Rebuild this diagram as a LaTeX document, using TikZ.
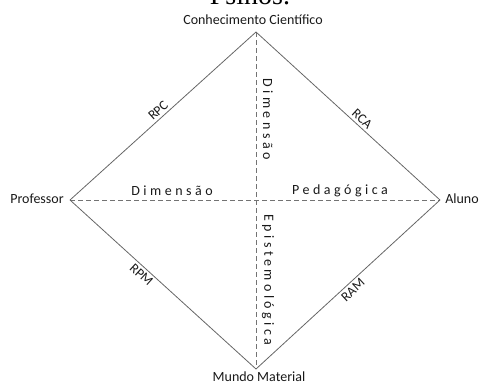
\documentclass[tikz,border=0pt]{standalone}
\usepackage{fontspec}
\setmainfont{Carlito}
\newfontfamily\capfont{Liberation Serif}
\begin{document}
\begin{tikzpicture}[x=1pt,y=-1pt,
  lbl/.style={font=\fontsize{14}{16}\selectfont, text=black!90, inner sep=1pt},
  dimtxt/.style={font=\fontsize{14}{16}\selectfont\addfontfeature{LetterSpace=25}, text=black!90, inner sep=0pt},
  edgelbl/.style={font=\fontsize{13.5}{15}\selectfont, text=black!90, sloped, inner sep=2.5pt},
  side/.style={draw=black!60, line width=0.8pt},
  axisline/.style={draw=black!55, line width=0.8pt, dash pattern=on 5pt off 3pt}]
\useasboundingbox (0,0) rectangle (481,384);
% clipped caption at the very top
\node[font=\capfont\fontsize{28}{30}\selectfont, anchor=base, inner sep=0pt] (cap) at (250,4) {Psinos.};
% vertices
\coordinate (T) at (256,32);
\coordinate (L) at (70,200);
\coordinate (R) at (440,200);
\coordinate (B) at (256,369);
% labels of vertices
\node[lbl] (cc) at (253,20) {Conhecimento Científico};
\node[lbl] (prof) at (37,199) {Professor};
\node[lbl] (alu) at (462,199) {Aluno};
\node[lbl] (mm) at (259,377) {Mundo Material};
% axes
\draw[axisline] (T) -- (B);
\draw[axisline] (L) -- (R);
% sides
\draw[side] (L) -- node[edgelbl, pos=0.5, above] (rpc) {RPC} (T);
\draw[side] (T) -- node[edgelbl, pos=0.55, above] (rca) {RCA} (R);
\draw[side] (L) -- node[edgelbl, pos=0.41, below] (rpm) {RPM} (B);
\draw[side] (B) -- node[edgelbl, pos=0.5, below] (ram) {RAM} (R);
% dimension texts
\node[dimtxt] (d1) at (172,191) {Dimensão};
\node[dimtxt] (p1) at (340,191) {Pedagógica};
\node[dimtxt, rotate=-90] (d2) at (268,119) {Dimensão};
\node[dimtxt, rotate=-90] (e1) at (268,280) {Epistemológica};
\end{tikzpicture}
\end{document}
